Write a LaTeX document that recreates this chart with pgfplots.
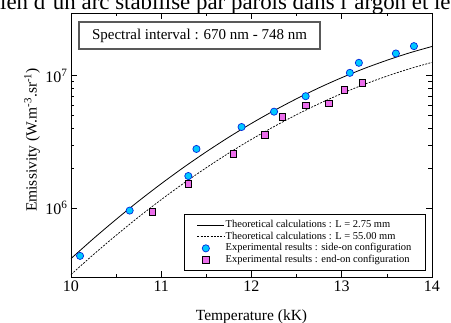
\documentclass[border=0pt]{standalone}
\usepackage{pgfplots}
\pgfplotsset{compat=1.18}
\usepackage{fontspec}
\setmainfont{Liberation Serif}
\definecolor{circfill}{RGB}{0,200,255}
\definecolor{circedge}{RGB}{0,40,220}
\definecolor{sqfill}{RGB}{235,110,235}
\pgfplotsset{longline/.style={legend image code/.code={\draw[##1] (0pt,0pt) -- (27pt,0pt);}}}
\begin{document}
\begin{tikzpicture}[x=1pt,y=1pt]
\begin{axis}[
  at={(71pt,46pt)}, anchor=south west,
  scale only axis, width=361pt, height=264pt,
  xmin=10, xmax=14, ymode=log, ymin=3.03e5, ymax=2.97e7,
  xtick={10,11,12,13,14}, minor x tick num=1,
  ytick={1e6,1e7}, yticklabels={10\textsuperscript{6},10\textsuperscript{7}},
  tick align=inside, xtick pos=both, ytick pos=both,
  major tick length=6pt, minor tick length=3.5pt,
  tick style={black, line width=0.7pt},
  axis line style={line width=0.8pt},
  /pgf/number format/assume math mode=true,
  tick label style={font=\fontsize{16}{17}\selectfont},
  xlabel={Temperature (kK)},
  ylabel={Emissivity (W.m\textsuperscript{-3}.sr\textsuperscript{-1})},
  label style={font=\fontsize{15.5}{16}\selectfont},
  xlabel style={at={(axis description cs:0.5,-0.163)}, anchor=base},
  ylabel style={at={(axis description cs:-0.108,0.519)}, anchor=center},
  legend style={at={(0.983,0.0227)}, anchor=south east, draw=black, line width=0.8pt,
    font=\fontsize{10.5}{11}\selectfont, inner xsep=13pt, inner ysep=5pt,
    row sep=0pt, nodes={inner sep=1pt, text height=7pt, text depth=2.5pt}},
  legend cell align=left,
]
\addplot[black, line width=0.8pt, smooth, longline] coordinates {
(10.00,4.17e5) (10.25,5.91e5) (10.50,8.24e5) (10.75,1.133e6) (11.00,1.531e6)
(11.25,2.037e6) (11.50,2.667e6) (11.75,3.44e6) (12.00,4.365e6) (12.25,5.45e6)
(12.50,6.70e6) (12.75,8.11e6) (13.00,9.66e6) (13.25,1.133e7) (13.50,1.306e7)
(13.75,1.485e7) (14.00,1.66e7)};
\addlegendentry{Theoretical calculations : L = 2.75 mm}
\addplot[black, line width=0.7pt, dash pattern=on 2pt off 1.3pt, smooth, longline] coordinates {
(10.00,3.16e5) (10.25,4.48e5) (10.50,6.25e5) (10.75,8.59e5) (11.00,1.161e6)
(11.25,1.545e6) (11.50,2.023e6) (11.75,2.61e6) (12.00,3.31e6) (12.25,4.13e6)
(12.50,5.08e6) (12.75,6.15e6) (13.00,7.33e6) (13.25,8.60e6) (13.50,9.91e6)
(13.75,1.127e7) (14.00,1.259e7)};
\addlegendentry{Theoretical calculations : L = 55.00 mm}
\addplot[only marks, mark=*, mark size=3.6pt, mark options={fill=circfill, draw=circedge, line width=0.7pt}] coordinates {
(10.10,4.37e5) (10.65,9.6e5) (11.30,1.75e6) (11.39,2.8e6) (11.89,4.1e6)
(12.25,5.35e6) (12.60,7.0e6) (13.09,1.05e7) (13.19,1.25e7) (13.60,1.47e7) (13.80,1.67e7)};
\addlegendentry{Experimental results : side-on configuration}
\addplot[only marks, mark=square*, mark size=3.3pt, mark options={fill=sqfill, draw=black, line width=0.7pt}] coordinates {
(10.90,9.4e5) (11.30,1.53e6) (11.80,2.57e6) (12.15,3.59e6) (12.34,4.89e6)
(12.60,5.98e6) (12.86,6.2e6) (13.03,7.84e6) (13.23,8.8e6)};
\addlegendentry{Experimental results : end-on configuration}
\end{axis}
\node[draw=black!65, line width=1.1pt, fill=white, minimum width=241pt, minimum height=27pt, inner sep=0pt, font=\fontsize{15}{16}\selectfont] at (199.5pt,287.5pt) {Spectral interval : 670 nm - 748 nm};
\node[anchor=base west, inner sep=0pt, font=\fontsize{22.9}{23}\selectfont] at (0pt,313.5pt) {ien d'un arc stabilisé par parois dans l'argon et le};
\pgfresetboundingbox
\useasboundingbox (0pt,0pt) rectangle (451pt,323pt);
\end{tikzpicture}
\end{document}
